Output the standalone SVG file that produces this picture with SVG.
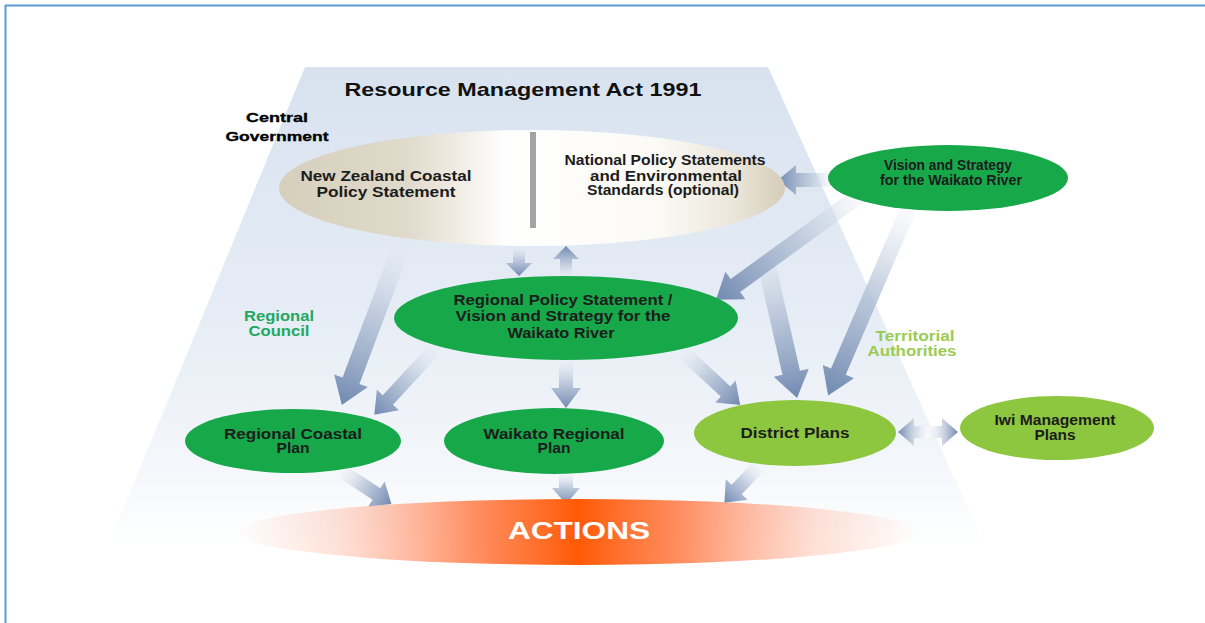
<svg xmlns="http://www.w3.org/2000/svg" width="1205" height="623" viewBox="0 0 1205 623">
  <defs>
    <!-- pale blue funnel behind the hierarchy -->
    <linearGradient id="funnel" x1="0" y1="0" x2="0" y2="1">
      <stop offset="0" stop-color="#d8e2ef"/>
      <stop offset="0.45" stop-color="#e5ecf5"/>
      <stop offset="0.75" stop-color="#f3f6fa"/>
      <stop offset="0.92" stop-color="#ffffff"/>
      <stop offset="1" stop-color="#ffffff"/>
    </linearGradient>
    <!-- central government ellipse: beige rim, white centre -->
    <linearGradient id="central" x1="0" y1="0" x2="1" y2="0">
      <stop offset="0" stop-color="#d6cfbc"/>
      <stop offset="0.25" stop-color="#e0dacb"/>
      <stop offset="0.36" stop-color="#f1ede5"/>
      <stop offset="0.45" stop-color="#ffffff"/>
      <stop offset="0.75" stop-color="#fbfaf6"/>
      <stop offset="0.9" stop-color="#ebe6da"/>
      <stop offset="1" stop-color="#d5cdb9"/>
    </linearGradient>
    <!-- actions band: hot centre fading sideways -->
    <linearGradient id="actions" x1="0" y1="0" x2="1" y2="0">
      <stop offset="0" stop-color="#ff9a78" stop-opacity="0"/>
      <stop offset="0.15" stop-color="#ff9a78" stop-opacity="0.3"/>
      <stop offset="0.35" stop-color="#ff7a45" stop-opacity="0.85"/>
      <stop offset="0.5" stop-color="#ff5a05"/>
      <stop offset="0.65" stop-color="#ff7a45" stop-opacity="0.85"/>
      <stop offset="0.85" stop-color="#ff9a78" stop-opacity="0.3"/>
      <stop offset="1" stop-color="#ff9a78" stop-opacity="0"/>
    </linearGradient>
    <!-- block arrows: pale tail, steel-blue head (drawn along +x) -->
    <linearGradient id="arrow" x1="0" y1="0" x2="1" y2="0">
      <stop offset="0" stop-color="#e4eaf2" stop-opacity="0.25"/>
      <stop offset="0.4" stop-color="#bac7da" stop-opacity="0.8"/>
      <stop offset="1" stop-color="#7189b1"/>
    </linearGradient>
    <linearGradient id="arrow2" x1="0" y1="0" x2="1" y2="0">
      <stop offset="0" stop-color="#7189b1"/>
      <stop offset="0.5" stop-color="#ffffff" stop-opacity="0.4"/>
      <stop offset="1" stop-color="#7189b1"/>
    </linearGradient>
    <style>
      .arr { fill: url(#arrow); }
      .dark { fill: #17a84a; }
      .light { fill: #8dc63f; }
      text { font-family: "Liberation Sans", Arial, sans-serif; font-weight: bold; text-anchor: middle; }
      .lbl { font-size: 14px; fill: #1c1c1c; }
      .gov { font-size: 12px; fill: #000000; font-weight: 900; stroke: #000000; stroke-width: 0.3; }
      .rc { font-size: 14px; fill: #23a862; }
      .ta { font-size: 14px; fill: #9acb52; }
    </style>
  </defs>

  <rect width="1205" height="623" fill="#ffffff"/>

  <!-- page frame (top and left rules) -->
  <line x1="5" y1="5.5" x2="1205" y2="5.5" stroke="#5b9bd5" stroke-width="2"/>
  <line x1="5.5" y1="5" x2="5.5" y2="623" stroke="#5b9bd5" stroke-width="2"/>

  <!-- funnel background -->
  <polygon points="305,67 768,67 1005,590 90,590" fill="url(#funnel)"/>

  <text x="523" y="96" font-size="19" textLength="357" lengthAdjust="spacingAndGlyphs" fill="#111">Resource Management Act 1991</text>

  <g id="central-government-label">
    <text class="gov" x="277" y="122" textLength="62" lengthAdjust="spacingAndGlyphs">Central</text>
    <text class="gov" x="277" y="141" textLength="103" lengthAdjust="spacingAndGlyphs">Government</text>
  </g>

  <!-- connectors -->
  <g id="connectors">
    <!-- central -> regional policy statement -->
    <polygon class="arr" transform="translate(519,247) rotate(90)" points="0,-6 16,-6 16,-13 29,0 16,13 16,6 0,6"/>
    <!-- regional policy statement -> central -->
    <polygon class="arr" transform="translate(566,277) rotate(-90)" points="0,-6 18,-6 18,-13 31,0 18,13 18,6 0,6"/>
    <!-- coastal policy -> regional coastal plan -->
    <polygon class="arr" transform="translate(402,245) rotate(110.6)" points="0,-9 145,-9 145,-18 171,0 145,18 145,9 0,9"/>
    <!-- RPS -> regional coastal plan -->
    <polygon class="arr" transform="translate(434,350) rotate(132.7)" points="0,-7 68,-7 68,-15 88,0 68,15 68,7 0,7"/>
    <!-- RPS -> waikato regional plan -->
    <polygon class="arr" transform="translate(566,362) rotate(90)" points="0,-7 26,-7 26,-15 46,0 26,15 26,7 0,7"/>
    <!-- RPS -> district plans -->
    <polygon class="arr" transform="translate(683,352) rotate(42.9)" points="0,-7 58,-7 58,-15 78,0 58,15 58,7 0,7"/>
    <!-- national policy -> district plans -->
    <polygon class="arr" transform="translate(762,245) rotate(77.1)" points="0,-9 131,-9 131,-18 157,0 131,18 131,9 0,9"/>
    <!-- vision -> national policy -->
    <polygon class="arr" transform="translate(832,180) rotate(180)" points="0,-7 36,-7 36,-15 54,0 36,15 36,7 0,7"/>
    <!-- vision -> RPS -->
    <polygon class="arr" transform="translate(860,195) rotate(144)" points="0,-8 154,-8 154,-17 178,0 154,17 154,8 0,8"/>
    <!-- vision -> district plans -->
    <polygon class="arr" transform="translate(908,210) rotate(113.3)" points="0,-8 176,-8 176,-17 202,0 176,17 176,8 0,8"/>
    <!-- district plans <-> iwi management plans -->
    <polygon fill="url(#arrow2)" transform="translate(898,432)" points="0,0 16,-14 16,-6 44,-6 44,-14 60,0 44,14 44,6 16,6 16,14"/>
    <!-- plans -> actions -->
    <polygon class="arr" transform="translate(343,472) rotate(33.4)" points="0,-7 40,-7 40,-15 58,0 40,15 40,7 0,7"/>
    <polygon class="arr" transform="translate(566,474) rotate(90)" points="0,-7 14,-7 14,-14 30,0 14,14 14,7 0,7"/>
    <polygon class="arr" transform="translate(758,467) rotate(133.3)" points="0,-7 31,-7 31,-15 49,0 31,15 31,7 0,7"/>
  </g>

  <g id="central-statements">
    <ellipse cx="532" cy="188" rx="253" ry="58" fill="url(#central)"/>
    <rect x="530" y="132" width="6" height="96" fill="#a3a3a3"/>
    <text class="lbl" x="386" y="181" textLength="171" lengthAdjust="spacingAndGlyphs">New Zealand Coastal</text>
    <text class="lbl" x="386" y="197" textLength="139" lengthAdjust="spacingAndGlyphs">Policy Statement</text>
    <text class="lbl" x="665" y="165" textLength="201" lengthAdjust="spacingAndGlyphs">National Policy Statements</text>
    <text class="lbl" x="666" y="181" textLength="152" lengthAdjust="spacingAndGlyphs">and Environmental</text>
    <text class="lbl" x="663" y="195" textLength="152" lengthAdjust="spacingAndGlyphs">Standards (optional)</text>
  </g>

  <g id="vision-strategy">
    <ellipse class="dark" cx="948" cy="178" rx="120" ry="33"/>
    <text class="lbl" x="948" y="170" textLength="128" lengthAdjust="spacingAndGlyphs">Vision and Strategy</text>
    <text class="lbl" x="951" y="185" textLength="142" lengthAdjust="spacingAndGlyphs">for the Waikato River</text>
  </g>

  <g id="regional-policy-statement">
    <ellipse class="dark" cx="566" cy="318" rx="172" ry="42"/>
    <text class="lbl" x="563" y="305" textLength="219" lengthAdjust="spacingAndGlyphs">Regional Policy Statement /</text>
    <text class="lbl" x="563" y="321" textLength="215" lengthAdjust="spacingAndGlyphs">Vision and Strategy for the</text>
    <text class="lbl" x="561" y="338" textLength="107" lengthAdjust="spacingAndGlyphs">Waikato River</text>
  </g>

  <g id="regional-council-label">
    <text class="rc" x="279" y="321" textLength="70" lengthAdjust="spacingAndGlyphs">Regional</text>
    <text class="rc" x="279" y="336" textLength="61" lengthAdjust="spacingAndGlyphs">Council</text>
  </g>

  <g id="territorial-authorities-label">
    <text class="ta" x="915" y="341" textLength="79" lengthAdjust="spacingAndGlyphs">Territorial</text>
    <text class="ta" x="912" y="356" textLength="89" lengthAdjust="spacingAndGlyphs">Authorities</text>
  </g>

  <g id="regional-coastal-plan">
    <ellipse class="dark" cx="293" cy="441" rx="108" ry="32"/>
    <text class="lbl" x="293" y="439" textLength="138" lengthAdjust="spacingAndGlyphs">Regional Coastal</text>
    <text class="lbl" x="293" y="453" textLength="33" lengthAdjust="spacingAndGlyphs">Plan</text>
  </g>

  <g id="waikato-regional-plan">
    <ellipse class="dark" cx="554" cy="441" rx="110" ry="33"/>
    <text class="lbl" x="554" y="439" textLength="141" lengthAdjust="spacingAndGlyphs">Waikato Regional</text>
    <text class="lbl" x="554" y="453" textLength="33" lengthAdjust="spacingAndGlyphs">Plan</text>
  </g>

  <g id="district-plans">
    <ellipse class="light" cx="795" cy="433" rx="101" ry="33"/>
    <text class="lbl" x="795" y="438" textLength="109" lengthAdjust="spacingAndGlyphs">District Plans</text>
  </g>

  <g id="iwi-management-plans">
    <ellipse class="light" cx="1057" cy="428" rx="97" ry="32"/>
    <text class="lbl" x="1055" y="425" textLength="121" lengthAdjust="spacingAndGlyphs">Iwi Management</text>
    <text class="lbl" x="1055" y="440" textLength="41" lengthAdjust="spacingAndGlyphs">Plans</text>
  </g>

  <g id="actions">
    <ellipse cx="578" cy="532" rx="340" ry="33" fill="url(#actions)"/>
    <text x="579" y="539" font-size="24" fill="#ffffff" textLength="142" lengthAdjust="spacingAndGlyphs">ACTIONS</text>
  </g>
</svg>
